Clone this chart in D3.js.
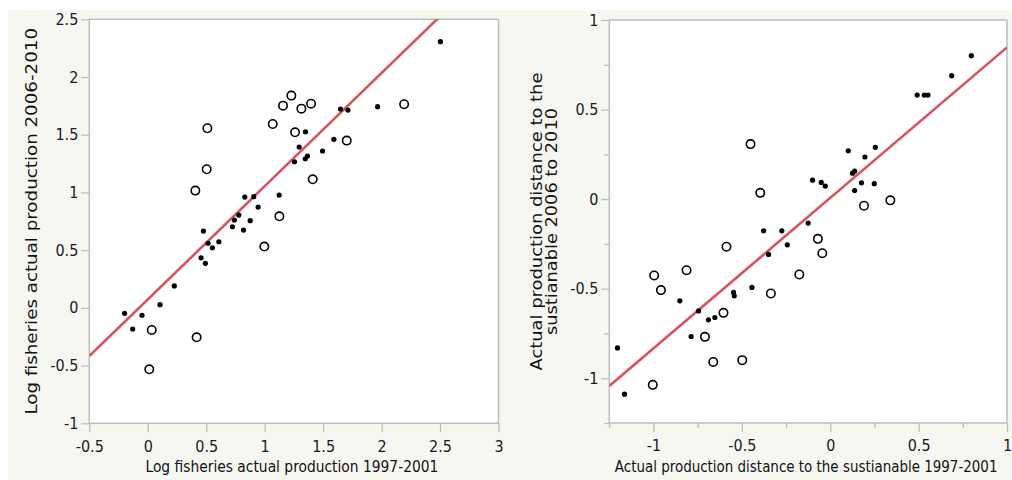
<!DOCTYPE html>
<html>
<head>
<meta charset="utf-8">
<script src="https://cdn.jsdelivr.net/npm/d3@7/dist/d3.min.js"></script>
<style>
  html, body { margin: 0; padding: 0; background: #ffffff; }
  svg { display: block; }
  text { font-family: "DejaVu Sans Condensed", "DejaVu Sans", sans-serif; font-stretch: condensed; }
</style>
</head>
<body>
<svg id="chart" width="1012" height="480"></svg>
<script>

// left panel: log production
var leftFilledX = [-0.198, -0.129, -0.049, 0.105, 0.227, 0.456, 0.476, 0.493, 0.516, 0.553, 0.608, 0.724, 0.741, 0.779, 0.819, 0.830, 0.876, 0.907, 0.944, 1.124, 1.255, 1.295, 1.347, 1.349, 1.366, 1.495, 1.592, 1.649, 1.712, 1.966, 2.503];
var leftFilledY = [-0.047, -0.183, -0.064, 0.028, 0.190, 0.434, 0.665, 0.386, 0.559, 0.521, 0.573, 0.703, 0.761, 0.804, 0.674, 0.960, 0.755, 0.963, 0.873, 0.977, 1.266, 1.393, 1.292, 1.526, 1.315, 1.359, 1.460, 1.723, 1.714, 1.743, 2.306];
var leftOpenX = [0.034, 0.013, 0.418, 0.407, 0.504, 0.510, 0.997, 1.069, 1.126, 1.157, 1.228, 1.260, 1.314, 1.397, 1.411, 1.702, 2.193];
var leftOpenY = [-0.191, -0.532, -0.255, 1.016, 1.201, 1.556, 0.531, 1.593, 0.793, 1.752, 1.839, 1.521, 1.726, 1.769, 1.114, 1.449, 1.764];
var leftFit = [0.073, 0.981];   // intercept, slope
var leftXTicks = [-0.5, 0, 0.5, 1, 1.5, 2, 2.5, 3];
var leftYTicks = [-1, -0.5, 0, 0.5, 1, 1.5, 2, 2.5];

// right panel: distance to sustainable
var rightFilledX = [-1.204, -1.164, -0.851, -0.787, -0.745, -0.689, -0.653, -0.547, -0.543, -0.443, -0.377, -0.349, -0.274, -0.243, -0.125, -0.100, -0.051, -0.028, 0.102, 0.126, 0.138, 0.138, 0.177, 0.196, 0.249, 0.255, 0.492, 0.532, 0.553, 0.687, 0.798];
var rightFilledY = [-0.831, -1.089, -0.568, -0.767, -0.624, -0.674, -0.661, -0.521, -0.540, -0.493, -0.177, -0.309, -0.177, -0.255, -0.134, 0.106, 0.093, 0.073, 0.270, 0.145, 0.156, 0.048, 0.091, 0.235, 0.086, 0.289, 0.581, 0.581, 0.581, 0.689, 0.801];
var rightOpenX = [-1.004, -0.996, -0.958, -0.813, -0.709, -0.662, -0.604, -0.587, -0.498, -0.451, -0.396, -0.336, -0.175, -0.070, -0.045, 0.191, 0.340];
var rightOpenY = [-1.037, -0.426, -0.508, -0.397, -0.769, -0.909, -0.635, -0.266, -0.899, 0.307, 0.035, -0.527, -0.421, -0.222, -0.302, -0.037, -0.007];
var rightFit = [0.007, 0.84];
var rightMajorTicks = [-1, -0.5, 0, 0.5, 1];
var rightMinorTicks = [-1.25, -0.75, -0.25, 0.25, 0.75];

var svg = d3.select("#chart");

svg.append("rect")
  .attr("x", 8).attr("y", 10)
  .attr("width", 1004).attr("height", 470)
  .attr("fill", "#f7f7f2");

var fmt = function(d) { return String(d); };

// squeeze a text horizontally (or along its own length) to a given width
function fitText(sel, width) {
  var w = sel.node().getComputedTextLength();
  return w > 0 ? width / w : 1;
}

function panel(opt) {
  var x = d3.scaleLinear().domain(opt.xDomain).range([opt.left, opt.right]),
      y = d3.scaleLinear().domain(opt.yDomain).range([opt.bottom, opt.top]);

  var g = svg.append("g");

  g.append("rect")
    .attr("x", opt.left).attr("y", opt.top)
    .attr("width", opt.right - opt.left).attr("height", opt.bottom - opt.top)
    .attr("fill", "#ffffff");

  // minor ticks first, majors drawn over them
  if (opt.minor) {
    g.append("g")
      .attr("transform", "translate(0," + opt.bottom + ")")
      .call(d3.axisBottom(x).tickValues(opt.minor).tickSize(5).tickFormat(""))
      .call(styleAxis);
    g.append("g")
      .attr("transform", "translate(" + opt.left + ",0)")
      .call(d3.axisLeft(y).tickValues(opt.minor).tickSize(5).tickFormat(""))
      .call(styleAxis);
  }

  g.append("g")
    .attr("transform", "translate(0," + opt.bottom + ")")
    .call(d3.axisBottom(x).tickValues(opt.xTicks).tickSize(9).tickPadding(8).tickFormat(fmt))
    .call(styleAxis)
    .selectAll("text").attr("font-size", 16);

  g.append("g")
    .attr("transform", "translate(" + opt.left + ",0)")
    .call(d3.axisLeft(y).tickValues(opt.yTicks).tickSize(8).tickPadding(3).tickFormat(fmt))
    .call(styleAxis)
    .selectAll("text").attr("font-size", 16);

  g.append("rect")
    .attr("x", opt.left).attr("y", opt.top)
    .attr("width", opt.right - opt.left).attr("height", opt.bottom - opt.top)
    .attr("fill", "none")
    .attr("stroke", "#bdbdbd")
    .attr("stroke-width", 1.5);

  var clipId = "clip" + Math.round(opt.left);
  g.append("clipPath").attr("id", clipId)
    .append("rect")
    .attr("x", opt.left).attr("y", opt.top)
    .attr("width", opt.right - opt.left).attr("height", opt.bottom - opt.top);

  var inner = g.append("g").attr("clip-path", "url(#" + clipId + ")");

  var fitLine = d3.line()
    .x(function(d) { return x(d); })
    .y(function(d) { return y(opt.fit[0] + opt.fit[1] * d); });

  inner.append("path")
    .attr("d", fitLine(opt.xDomain))
    .attr("fill", "none")
    .attr("stroke", "#d9535f")
    .attr("stroke-width", 2.6);

  inner.selectAll("circle.open")
    .data(d3.range(opt.openX.length))
    .enter().append("circle")
    .attr("class", "open")
    .attr("cx", function(i) { return x(opt.openX[i]); })
    .attr("cy", function(i) { return y(opt.openY[i]); })
    .attr("r", 4.2)
    .attr("fill", "none")
    .attr("stroke", "#000")
    .attr("stroke-width", 1.6);

  inner.selectAll("circle.filled")
    .data(d3.range(opt.filledX.length))
    .enter().append("circle")
    .attr("class", "filled")
    .attr("cx", function(i) { return x(opt.filledX[i]); })
    .attr("cy", function(i) { return y(opt.filledY[i]); })
    .attr("r", 2.6)
    .attr("fill", "#000");

  // x title, squeezed like the source image
  var xg = g.append("g");
  var xt = xg.append("text")
    .attr("x", 0).attr("y", 0)
    .attr("text-anchor", "middle")
    .attr("font-size", 16)
    .attr("fill", "#111")
    .text(opt.xTitle);
  xg.attr("transform", "translate(" + ((opt.left + opt.right) / 2 + opt.xTitleShift) + ",472) scale(" + fitText(xt, opt.xTitleWidth) + ",1)");

  opt.yTitle.forEach(function(line, k) {
    var yg = g.append("g");
    var t = yg.append("text")
      .attr("x", 0).attr("y", 0)
      .attr("text-anchor", "middle")
      .attr("font-size", 16)
      .attr("fill", "#111")
      .text(line);
    yg.attr("transform", "translate(" + opt.yTitleX[k] + "," + ((opt.top + opt.bottom) / 2) + ") rotate(-90) scale(" + fitText(t, opt.yTitleWidth[k]) + ",1)");
  });
}

function styleAxis(sel) {
  sel.select(".domain").remove();
  sel.selectAll("line").attr("stroke", "#bdbdbd").attr("stroke-width", 1.3);
  sel.selectAll("text").attr("fill", "#1a1a22").attr("font-family", null);
}

panel({
  left: 89.3, right: 498.5, top: 19.3, bottom: 423.3,
  xDomain: [-0.5, 3], yDomain: [-1, 2.5],
  xTicks: leftXTicks, yTicks: leftYTicks,
  filledX: leftFilledX, filledY: leftFilledY,
  openX: leftOpenX, openY: leftOpenY,
  fit: leftFit,
  xTitle: "Log fisheries actual production 1997-2001",
  xTitleShift: -2, xTitleWidth: 293,
  yTitle: ["Log fisheries actual production 2006-2010"],
  yTitleX: [37], yTitleWidth: [387]
});

panel({
  left: 609.3, right: 1007, top: 20, bottom: 423,
  xDomain: [-1.25, 1], yDomain: [-1.25, 1],
  xTicks: rightMajorTicks, yTicks: rightMajorTicks,
  minor: rightMinorTicks,
  filledX: rightFilledX, filledY: rightFilledY,
  openX: rightOpenX, openY: rightOpenY,
  fit: rightFit,
  xTitle: "Actual production distance to the sustianable 1997-2001",
  xTitleShift: -2, xTitleWidth: 383,
  yTitle: ["Actual production distance to the", "sustianable 2006 to 2010"],
  yTitleX: [542, 557], yTitleWidth: [298, 227]
});

</script>
</body>
</html>
